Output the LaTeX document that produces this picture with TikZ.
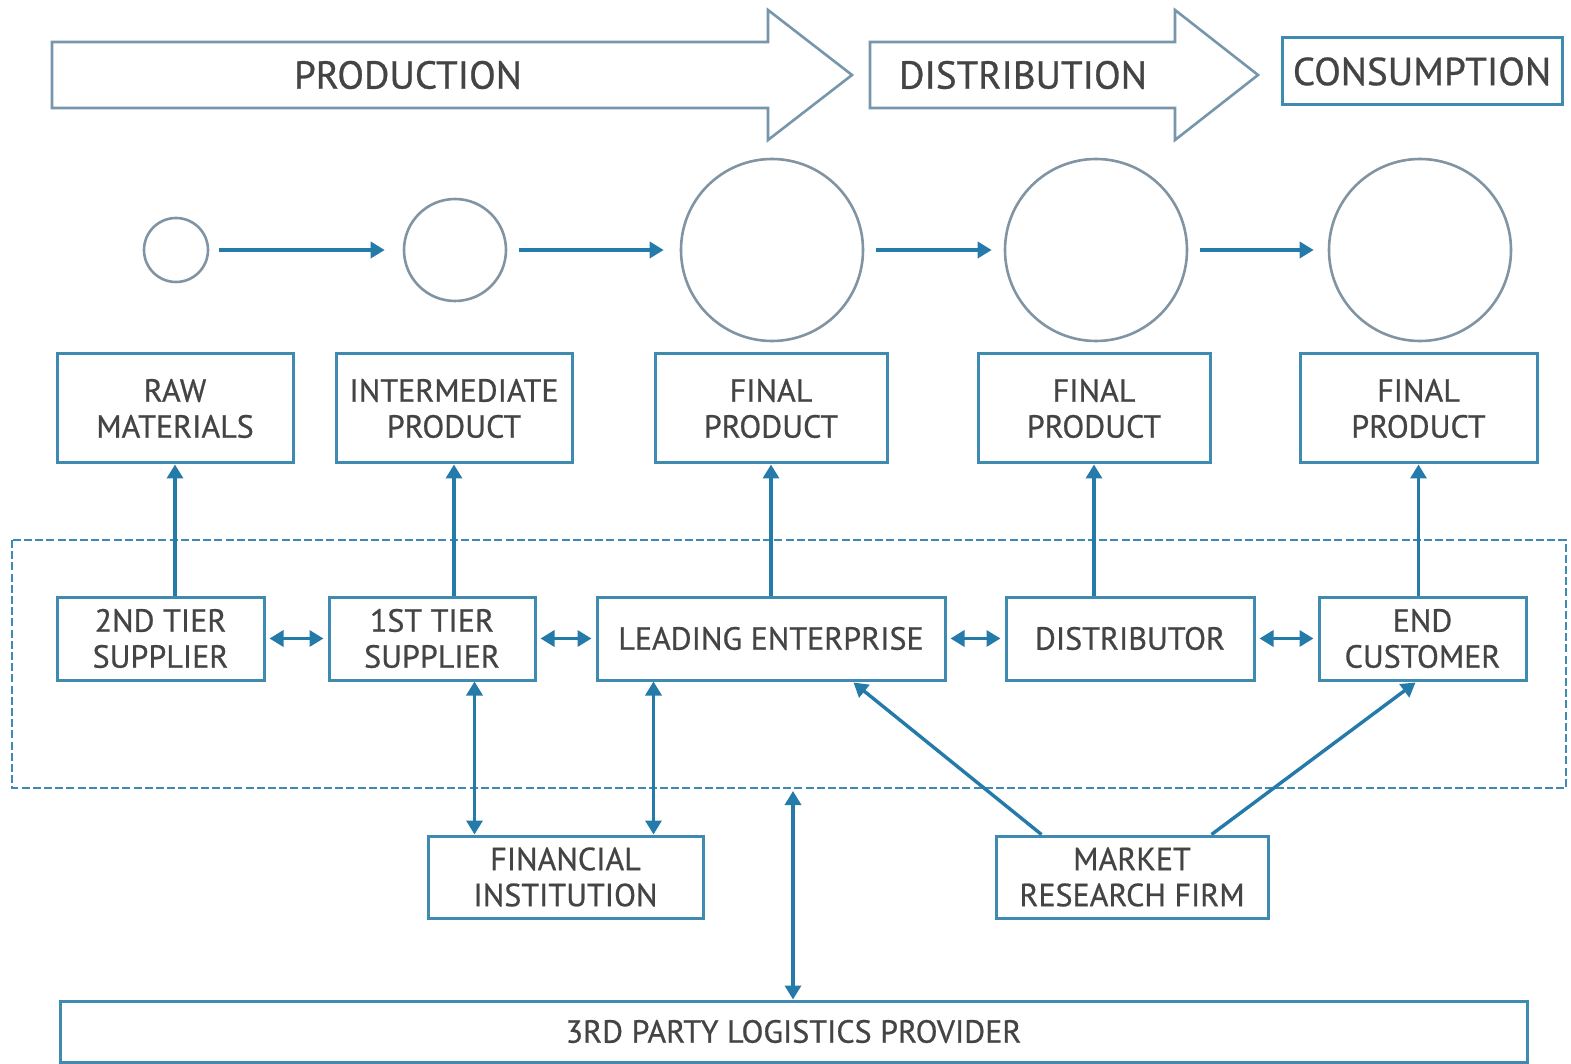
\documentclass[tikz,border=0pt]{standalone}
\usepackage{fontspec}
\setmainfont{PT Sans}[FakeBold=0.7]
\usetikzlibrary{arrows.meta,calc}
\definecolor{boxc}{RGB}{62,138,176}
\definecolor{arrc}{RGB}{36,122,168}
\definecolor{shapec}{RGB}{118,150,172}
\definecolor{circc}{RGB}{128,148,164}
\definecolor{txtc}{RGB}{68,68,68}
\tikzset{
  box/.style={draw=boxc, line width=1.5pt, fill=white, inner sep=0pt, align=center,
    text=txtc, font=\fontsize{16}{18}\selectfont},
  prodbox/.style={box, minimum height=54.5pt},
  rowbox/.style={box, minimum height=41.5pt},
  lowbox/.style={box, minimum height=41pt},
  stage/.style={draw=circc, line width=1.3pt, circle, inner sep=0pt},
  flow/.style={draw=shapec, line width=1.3pt, fill=white},
  stagetext/.style={text=txtc, font=\fontsize{19.5}{21}\selectfont, inner sep=0pt},
  arr/.style={draw=arrc, line width=1.7pt, -{Triangle[length=7pt,width=8pt]}},
  darr/.style={draw=arrc, line width=1.7pt, {Triangle[length=7pt,width=8pt]}-{Triangle[length=7pt,width=8pt]}},
  region/.style={draw=boxc, line width=1.3pt, dash pattern=on 4pt off 1.6pt}
}
\begin{document}
\begin{tikzpicture}[x=0.5pt, y=-0.5pt]
\useasboundingbox (0,0) rectangle (1571,1064);
\fill[white] (0,0) rectangle (1571,1064);

% stage arrows across the top
\draw[flow] (52,42) -- (768,42) -- (768,10) -- (852,75) -- (768,140) -- (768,108) -- (52,108) -- cycle;
\node[stagetext] (prod) at (408,75) {PRODUCTION};
\draw[flow] (870,42) -- (1175,42) -- (1175,10) -- (1258,75) -- (1175,140) -- (1175,108) -- (870,108) -- cycle;
\node[stagetext] (dist) at (1023,75) {DISTRIBUTION};
\node[box, font=\fontsize{19.5}{21}\selectfont, minimum width=140pt, minimum height=33.5pt] (cons) at (1422,71.5) {CONSUMPTION};

% value chain circles
\node[stage, minimum size=32pt] (c1) at (176,250) {};
\node[stage, minimum size=51pt] (c2) at (455,250) {};
\node[stage, minimum size=91pt] (c3) at (772,250) {};
\node[stage, minimum size=91pt] (c4) at (1096,250) {};
\node[stage, minimum size=91pt] (c5) at (1420,250) {};
\draw[arr, shorten <=5pt, shorten >=9pt] (c1) -- (c2);
\draw[arr, shorten <=6pt, shorten >=8pt] (c2) -- (c3);
\draw[arr, shorten <=6pt, shorten >=6pt] (c3) -- (c4);
\draw[arr, shorten <=6pt, shorten >=7pt] (c4) -- (c5);

% products
\node[prodbox, minimum width=118pt] (raw) at (175,408.5) {RAW\\MATERIALS};
\node[prodbox, minimum width=118pt] (inter) at (454,408.5) {INTERMEDIATE\\PRODUCT};
\node[prodbox, minimum width=116pt] (fin1) at (771,408.5) {FINAL\\PRODUCT};
\node[prodbox, minimum width=116pt] (fin2) at (1094,408.5) {FINAL\\PRODUCT};
\node[prodbox, minimum width=118.5pt] (fin3) at (1418.5,408.5) {FINAL\\PRODUCT};

% supply chain region
\draw[region] (12,540) rectangle (1566,788);

% supply chain actors
\node[rowbox, minimum width=103.5pt] (t2) at (160.5,638.5) {2ND TIER\\SUPPLIER};
\node[rowbox, minimum width=103pt] (t1) at (432,638.5) {1ST TIER\\SUPPLIER};
\node[rowbox, minimum width=174pt] (lead) at (771,638.5) {LEADING ENTERPRISE};
\node[rowbox, minimum width=124pt] (distr) at (1130,638.5) {DISTRIBUTOR};
\node[rowbox, minimum width=103.5pt] (cust) at (1422.5,638.5) {END\\CUSTOMER};

% support actors
\node[lowbox, minimum width=137.5pt] (fin) at (565.5,877) {FINANCIAL\\INSTITUTION};
\node[lowbox, minimum width=136pt] (mrf) at (1132,877) {MARKET\\RESEARCH FIRM};
\node[box, minimum width=733.5pt, minimum height=30.5pt] (tpl) at (793.5,1031.5) {3RD PARTY LOGISTICS PROVIDER};

% actors to products
\draw[arr] (t2.north -| raw.south) -- (raw.south);
\draw[arr] (t1.north -| inter.south) -- (inter.south);
\draw[arr] (lead.north -| fin1.south) -- (fin1.south);
\draw[arr] (distr.north -| fin2.south) -- (fin2.south);
\draw[arr] (cust.north -| fin3.south) -- (fin3.south);

% flows between actors
\draw[darr, shorten <=2pt, shorten >=2pt] (t2.east) -- (t1.west);
\draw[darr, shorten <=2pt, shorten >=2pt] (t1.east) -- (lead.west);
\draw[darr, shorten <=2pt, shorten >=2pt] (lead.east) -- (distr.west);
\draw[darr, shorten <=2pt, shorten >=2pt] (distr.east) -- (cust.west);

% finance links
\draw[darr] ($(t1.south west)+(147,0)$) -- ($(fin.north west)+(48,0)$);
\draw[darr] ($(lead.south west)+(58,0)$) -- ($(fin.north west)+(227,0)$);

% market research links
\draw[arr] ($(mrf.north west)+(47,0)$) -- ($(lead.south west)+(258,1)$);
\draw[arr] ($(mrf.north west)+(217,0)$) -- ($(cust.south west)+(98,1)$);

% logistics link
\coordinate (regbottom) at (793,791);
\draw[darr] (regbottom) -- (tpl.north -| regbottom);
\end{tikzpicture}
\end{document}
